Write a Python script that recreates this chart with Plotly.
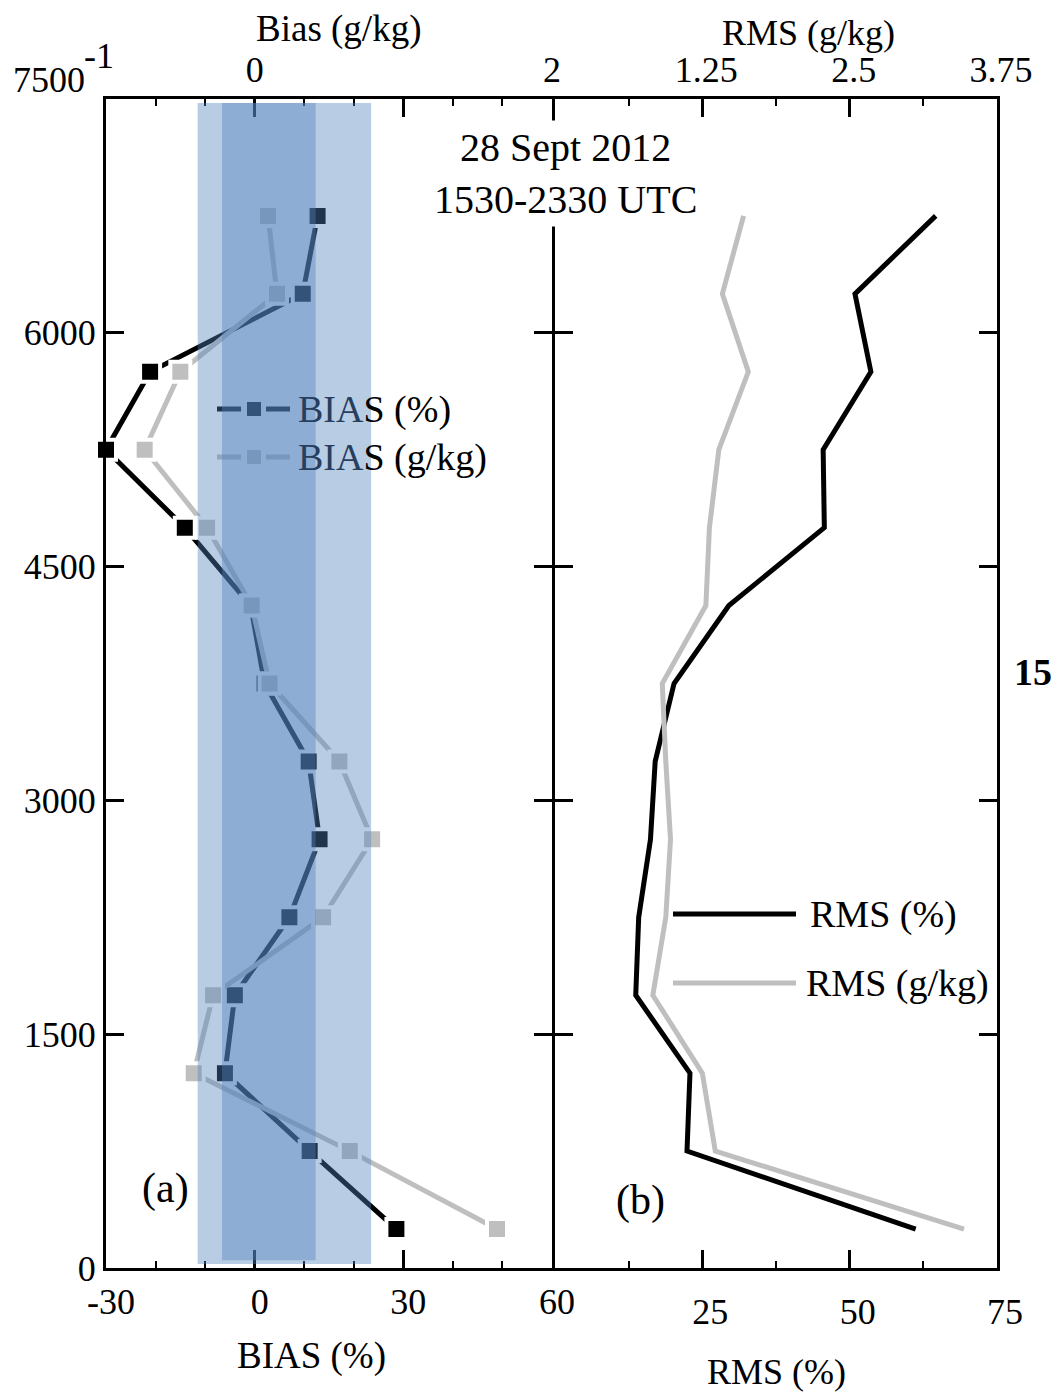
import plotly.graph_objects as go

# ---------------- data ----------------
heights = [250, 750, 1250, 1750, 2250, 2750, 3250, 3750, 4250, 4750, 5250, 5750, 6250, 6750]
bias_pct = [28.6, 11.1, -6.0, -4.0, 7.0, 13.1, 10.9, 2.0, -0.8, -14.1, -30.0, -21.1, 9.7, 12.7]
bias_gkg = [1.63, 0.64, -0.41, -0.28, 0.46, 0.79, 0.57, 0.10, -0.02, -0.32, -0.74, -0.50, 0.15, 0.09]
rms_pct = [61.2, 22.4, 22.9, 13.7, 14.2, 16.2, 17.0, 20.2, 29.5, 45.7, 45.5, 53.6, 50.9, 64.6]
rms_gkg = [3.47, 1.36, 1.25, 0.83, 0.94, 0.98, 0.94, 0.91, 1.28, 1.31, 1.39, 1.64, 1.42, 1.60]
band_outer = [-11.5, 23.5]   # BIAS (%) shaded range
band_inner = [-6.6, 12.3]

y_ticks = [0, 1500, 3000, 4500, 6000, 7500]
y_ticktext = ["0", "1500", "3000", "4500", "6000", ""]
bias_pct_ticks = [-30, 0, 30, 60]
bias_pct_text = ["-30", "0", "30", "60"]
bias_gkg_ticks = [-1, 0, 1, 2]
bias_gkg_text = ["", "0", "", "2"]
rms_pct_ticks = [0, 25, 50, 75]
rms_pct_text = ["", "25", "50", "75"]
rms_gkg_ticks = [0, 1.25, 2.5, 3.75]
rms_gkg_text = ["", "1.25", "2.5", "3.75"]

W, H = 1055, 1394
FONT = "Liberation Serif"
BLACK = "#000000"
GRAY = "#BFBFBF"
BAND = "rgba(79,129,189,0.405)"


def px(x):
    return x / W


def py(y):
    return 1 - y / H


xl0, xm, xr = px(106), px(552), px(997)
xm2 = px(555)
yb, yt = py(1268), py(99)

fig = go.Figure()

# BIAS (g/kg) - gray, top axis
fig.add_trace(go.Scatter(
    x=bias_gkg, y=heights, xaxis="x2", yaxis="y", mode="lines+markers",
    line=dict(color=GRAY, width=5),
    marker=dict(symbol="square", size=20, color=GRAY, line=dict(color="white", width=4)),
    showlegend=False))
# BIAS (%) - black, bottom axis
fig.add_trace(go.Scatter(
    x=bias_pct, y=heights, xaxis="x", yaxis="y", mode="lines+markers",
    line=dict(color=BLACK, width=5),
    marker=dict(symbol="square", size=20, color=BLACK, line=dict(color="white", width=4)),
    showlegend=False, cliponaxis=False))
# RMS (g/kg) - gray
fig.add_trace(go.Scatter(
    x=rms_gkg, y=heights, xaxis="x4", yaxis="y2", mode="lines",
    line=dict(color=GRAY, width=5), showlegend=False))
# RMS (%) - black
fig.add_trace(go.Scatter(
    x=rms_pct, y=heights, xaxis="x3", yaxis="y2", mode="lines",
    line=dict(color=BLACK, width=5), showlegend=False))

shapes = []
# manual legend samples for bias (drawn under the bands)
for yy, col in [(409, BLACK), (457, GRAY)]:
    shapes.append(dict(type="line", xref="paper", yref="paper", x0=px(217), x1=px(241),
                       y0=py(yy), y1=py(yy), line=dict(color=col, width=5), layer="above"))
    shapes.append(dict(type="line", xref="paper", yref="paper", x0=px(266), x1=px(290),
                       y0=py(yy), y1=py(yy), line=dict(color=col, width=5), layer="above"))
    shapes.append(dict(type="rect", xref="paper", yref="paper", x0=px(247), x1=px(261),
                       y0=py(yy + 7), y1=py(yy - 7), fillcolor=col, line=dict(width=0), layer="above"))
# shaded bands on top
shapes.append(dict(type="rect", xref="x", yref="y", x0=band_outer[0], x1=band_outer[1],
                   y0=25, y1=7475, fillcolor=BAND, line=dict(width=0), layer="above"))
shapes.append(dict(type="rect", xref="x", yref="y", x0=band_inner[0], x1=band_inner[1],
                   y0=50, y1=7475, fillcolor=BAND, line=dict(width=0), layer="above"))
# RMS legend samples
shapes.append(dict(type="line", xref="paper", yref="paper", x0=px(673), x1=px(796),
                   y0=py(914), y1=py(914), line=dict(color=BLACK, width=5)))
shapes.append(dict(type="line", xref="paper", yref="paper", x0=px(673), x1=px(796),
                   y0=py(983), y1=py(983), line=dict(color=GRAY, width=5)))

tickfont = dict(family=FONT, size=36, color="black")
common = dict(showline=True, linecolor="black", linewidth=3, ticks="inside", tickwidth=3,
              ticklen=18, tickcolor="black", showgrid=False, zeroline=False, tickfont=tickfont,
              automargin=False)
minor_style = dict(ticks="inside", ticklen=7, tickwidth=2, tickcolor="black")

fig.update_layout(
    width=W, height=H, margin=dict(l=0, r=0, t=0, b=0),
    paper_bgcolor="white", plot_bgcolor="white", showlegend=False,
    font=dict(family=FONT, size=36, color="black"),
    xaxis=dict(domain=[xl0, xm], range=[-30, 60], anchor="y", side="bottom",
               tickmode="array", tickvals=bias_pct_ticks, ticktext=bias_pct_text,
               ticklabelshift=5,
               minor=dict(dtick=10, **minor_style), **common),
    xaxis2=dict(domain=[xl0, xm], range=[-1, 2], anchor="y", side="top", overlaying="x",
                tickmode="array", tickvals=bias_gkg_ticks, ticktext=bias_gkg_text,
                minor=dict(tickvals=[-2/3, -1/3, 1/3, 2/3, 4/3, 5/3], **minor_style),
                **common),
    xaxis3=dict(domain=[xm2, xr], range=[0, 75], anchor="y2", side="bottom",
                tickmode="array", tickvals=rms_pct_ticks, ticktext=rms_pct_text,
                ticklabelshift=8, ticklabelstandoff=10,
                minor=dict(dtick=12.5, **minor_style), **common),
    xaxis4=dict(domain=[xm2, xr], range=[0, 3.75], anchor="y2", side="top", overlaying="x3",
                tickmode="array", tickvals=rms_gkg_ticks, ticktext=rms_gkg_text,
                ticklabelshift=4,
                minor=dict(dtick=0.625, **minor_style), **common),
    yaxis=dict(domain=[yb, yt], range=[0, 7500], anchor="x", mirror="ticks",
               tickmode="array", tickvals=y_ticks, ticktext=y_ticktext, **common),
    yaxis2=dict(domain=[yb, yt], range=[0, 7500], anchor="x3", mirror="ticks",
                tickmode="array", tickvals=y_ticks, showticklabels=False, **common),
    shapes=shapes,
)


def ann(text, x, y, size=38, xanchor="center", **kw):
    return dict(text=text, x=px(x), y=py(y), xref="paper", yref="paper", showarrow=False,
                xanchor=xanchor, yanchor="middle", font=dict(family=FONT, size=size, color="black"),
                **kw)


tint = "#263F5F"
annotations = [
    ann("Bias (g/kg)", 338, 29, size=37),
    ann("RMS (g/kg)", 808, 33, size=36),
    ann("BIAS (%)", 311, 1356, size=37),
    ann("RMS (%)", 776, 1372, size=36),
    ann("28 Sept 2012<br>1530-2330 UTC", 565, 173, size=40, bgcolor="white", borderpad=4),
    ann("(a)", 165, 1188, size=42),
    ann("(b)", 641, 1200, size=42),
    ann("RMS (%)", 808, 914, xanchor="left"),
    ann("RMS (g/kg)", 804, 983, xanchor="left"),
    ann(f"<span style='color:{tint}'>BIA</span>S (%)", 296, 409, xanchor="left"),
    ann(f"<span style='color:{tint}'>BIA</span>S (g/kg)", 296, 457, xanchor="left"),
    ann("7500", 87, 80, size=36, xanchor="right"),
    ann("-1", 99, 56, size=36),
    ann("<b>15</b>", 1012, 672, xanchor="left"),
]
fig.update_layout(annotations=annotations)

fig.write_html("out.html")
